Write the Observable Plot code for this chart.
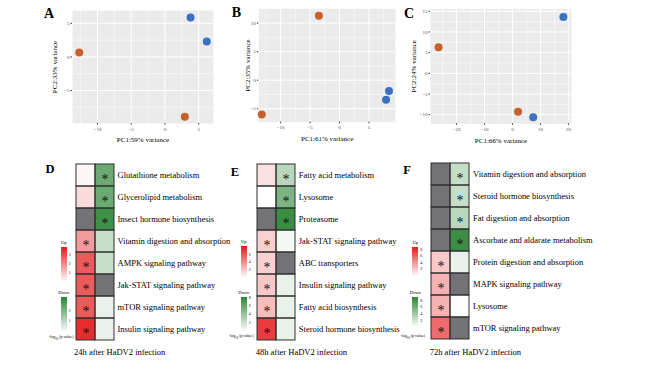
<!DOCTYPE html>
<html><head><meta charset="utf-8">
<script src="https://cdn.jsdelivr.net/npm/d3@7"></script>
<script src="https://cdn.jsdelivr.net/npm/@observablehq/plot@0.6"></script>
<style>
body{margin:0;background:#fff;}
#root{position:relative;width:661px;height:371px;overflow:hidden;font-family:"Liberation Serif","DejaVu Serif",serif;color:#000;}
#root svg{position:absolute;overflow:visible;}
.t{position:absolute;white-space:nowrap;line-height:1;transform:translate(-50%,-50%);}
.tl{position:absolute;white-space:nowrap;line-height:1;transform:translate(0,-50%);}
.bar{position:absolute;}
</style></head><body><div id="root"></div>
<script>
// ---------- PCA data ----------
const pcaGroups = ["Infected","Control"];
const pcaA_x = [-12.7, 2.95, 3.8, 6.2];
const pcaA_y = [0.65, -8.9, 5.85, 2.3];
const pcaA_g = ["Infected","Infected","Control","Control"];
const pcaB_x = [-3.5, -13.2, 8.4, 7.9];
const pcaB_y = [11.3, -6.0, -1.9, -3.4];
const pcaB_g = ["Infected","Infected","Control","Control"];
const pcaC_x = [-26.4, 2.0, 7.4, 18.2];
const pcaC_y = [6.3, -9.3, -10.6, 13.6];
const pcaC_g = ["Infected","Infected","Control","Control"];
const pcaA_xTicks = [-10,-5,0,5], pcaA_yTicks = [-5,0,5];
const pcaB_xTicks = [-10,-5,0,5], pcaB_yTicks = [-5,0,5,10];
const pcaC_xTicks = [-20,-10,0,10,20], pcaC_yTicks = [-10,-5,0,5,10,15];
const pcaLabels = {
  A:["PC1:59% variance","PC2:33% variance"],
  B:["PC1:61% variance","PC2:35% variance"],
  C:["PC1:66% variance","PC2:24% variance"]
};

// ---------- Heatmap data (-log10 p value) ----------
const pathsD = ["Glutathione metabolism","Glycerolipid metabolism","Insect hormone biosynthesis","Vitamin digestion and absorption","AMPK signaling pathway","Jak-STAT signaling pathway","mTOR signaling pathway","Insulin signaling pathway"];
const upD    = [0.15, 0.6, null, 1.7, 2.8, 2.8, 2.8, 3.6];
const downD  = [2.3, 2.3, 3.0, 0.9, 0.9, null, 0.35, 0.35];
const upSigD   = [0,0,0,1,1,1,1,1];
const downSigD = [1,1,1,0,0,0,0,0];
const legUpTicksD = ["1","2","3"], legDownTicksD = ["1","2"];

const pathsE = ["Fatty acid metabolism","Lysosome","Proteasome","Jak-STAT signaling pathway","ABC transporters","Insulin signaling pathway","Fatty acid biosynthesis","Steroid hormone biosynthesis"];
const upE    = [1.1, 0.02, null, 1.7, 1.7, 2.0, 2.4, 7.0];
const downE  = [2.7, 5.1, 7.7, 0.4, null, 0.9, 0.9, 0.9];
const upSigE   = [0,0,0,1,1,1,1,1];
const downSigE = [1,1,1,0,0,0,0,0];
const legUpTicksE = ["2","4","6"], legDownTicksE = ["2","4","6","8"];

const pathsF = ["Vitamin digestion and absorption","Steroid hormone biosynthesis","Fat digestion and absorption","Ascorbate and aldarate metabolism","Protein digestion and absorption","MAPK signaling pathway","Lysosome","mTOR signaling pathway"];
const upF    = [null, null, null, null, 2.1, 3.0, 3.0, 5.7];
const downF  = [2.5, 2.5, 3.0, 8.5, 0.9, null, 0.05, null];
const upSigF   = [0,0,0,0,1,1,1,1];
const downSigF = [1,1,1,1,0,0,0,0];
const legUpTicksF = ["2","4","6","8"], legDownTicksF = ["2","4","6","8"];

const captions = ["24h after HaDV2 infection","48h after HaDV2 infection","72h after HaDV2 infection"];

// ---------- styles ----------
const ORANGE = "#c8602c", BLUE = "#3a72c2";
const RED = "#e41a1c", GREEN = "#2b8535", NA = "#737377";
const FONT = '"Liberation Serif","DejaVu Serif",serif';
const root = document.getElementById("root");

function place(el, left, top){ el.style.left = left+"px"; el.style.top = top+"px"; root.appendChild(el); }
function label(text, x, y, size, opts={}){
  const d = document.createElement("div");
  d.className = opts.left ? "tl" : "t";
  d.innerHTML = text;
  d.style.fontSize = size+"px";
  if (opts.bold) d.style.fontWeight = "bold";
  if (opts.color) d.style.color = opts.color;
  place(d, x, y);
}

function pca(c){
  const data = c.xs.map((x,i)=>({x, y:c.ys[i], g:c.gs[i]}));
  const xs = c.xTicks[1]-c.xTicks[0], ys = c.yTicks[1]-c.yTicks[0];
  const xMinor = d3.range(c.xTicks[0]-xs*2.5, c.xDomain[1], xs).filter(v=>v>c.xDomain[0]);
  const yMinor = d3.range(c.yTicks[0]-ys*2.5, c.yDomain[1], ys).filter(v=>v>c.yDomain[0]);
  const svg = Plot.plot({
    width:c.w, height:c.h, marginLeft:c.mL, marginRight:c.mR, marginTop:c.mT, marginBottom:c.mB,
    style:{fontFamily:FONT, fontSize:"5px", background:"transparent", color:"#4d4d4d", overflow:"visible"},
    x:{domain:c.xDomain}, y:{domain:c.yDomain},
    color:{domain:pcaGroups, range:[ORANGE, BLUE]},
    marks:[
      Plot.frame({fill:"#ebebeb", stroke:"none"}),
      Plot.gridX(xMinor,{stroke:"white", strokeOpacity:1, strokeWidth:0.5}),
      Plot.gridY(yMinor,{stroke:"white", strokeOpacity:1, strokeWidth:0.5}),
      Plot.gridX(c.xTicks,{stroke:"white", strokeOpacity:1, strokeWidth:1}),
      Plot.gridY(c.yTicks,{stroke:"white", strokeOpacity:1, strokeWidth:1}),
      Plot.axisX(c.xTicks,{tickSize:1.5, tickPadding:2, fontSize:5, label:null, stroke:"#333"}),
      Plot.axisY(c.yTicks,{tickSize:1.5, tickPadding:1.5, fontSize:5, label:null, stroke:"#333"}),
      Plot.dot(data,{x:"x", y:"y", fill:"g", r:4, stroke:"none"}),
      Plot.text([c.labels[0]],{frameAnchor:"bottom", dy:16.5, fontSize:7, fill:"black", textAnchor:"middle", lineAnchor:"middle"}),
      Plot.text([c.labels[1]],{frameAnchor:"left", dx:c.titleDx, rotate:-90, fontSize:7, fill:"black", textAnchor:"middle", lineAnchor:"middle"})
    ]
  });
  place(svg, c.left, c.top);
}

pca({left:40, top:0, w:180, h:148, mL:32, mR:7, mT:10, mB:25, xs:pcaA_x, ys:pcaA_y, gs:pcaA_g,
  xDomain:[-13.7,7.2], yDomain:[-9.9,6.9], xTicks:pcaA_xTicks, yTicks:pcaA_yTicks, labels:pcaLabels.A, titleDx:-18});
pca({left:225, top:0, w:180, h:148, mL:33.3, mR:10, mT:8.3, mB:26.3, xs:pcaB_x, ys:pcaB_y, gs:pcaB_g,
  xDomain:[-13.7,9.5], yDomain:[-7.35,12.5], xTicks:pcaB_xTicks, yTicks:pcaB_yTicks, labels:pcaLabels.B, titleDx:-11});
pca({left:400, top:0, w:180, h:148, mL:30, mR:9, mT:8.3, mB:24.7, xs:pcaC_x, ys:pcaC_y, gs:pcaC_g,
  xDomain:[-29.3,21.1], yDomain:[-12.2,15.6], xTicks:pcaC_xTicks, yTicks:pcaC_yTicks, labels:pcaLabels.C, titleDx:-17});

label("A", 49, 14, 14, {bold:true});
label("B", 236.5, 13, 14, {bold:true});
label("C", 409, 13.5, 14, {bold:true});

function heat(c){
  const rows = c.paths.flatMap((p,i)=>[
    {path:p, col:"Up", v:c.up[i], s:c.upSig[i]},
    {path:p, col:"Down", v:c.down[i]==null?null:-c.down[i], s:c.downSig[i]}
  ]);
  const w = c.x1 - c.x0 + 2 + c.labelW, h = c.y1 - c.y0 + 2;
  const svg = Plot.plot({
    width:w, height:h, marginLeft:1, marginTop:1, marginBottom:1, marginRight:c.labelW+1,
    style:{fontFamily:FONT, fontSize:"8.5px", background:"transparent", color:"black", overflow:"visible"},
    x:{domain:["Up","Down"], padding:0, axis:null},
    y:{domain:c.paths, padding:0},
    color:{type:"linear", domain:[-c.downMax,0,c.upMax], range:[GREEN,"#ffffff",RED]},
    marks:[
      Plot.cell(rows,{x:"col", y:"path", fill:NA, inset:0}),
      Plot.cell(rows.filter(d=>d.v!=null),{x:"col", y:"path", fill:"v", inset:0}),
      Plot.cell(rows,{x:"col", y:"path", fill:"none", stroke:"#2e2e2e", strokeWidth:1, inset:0}),
      Plot.text(rows.filter(d=>d.s),{x:"col", y:"path", text:()=>"*", fontSize:14, dy:4, fill:"#111"}),
      Plot.axisY({anchor:"right", tickSize:0, tickPadding:3, fontSize:8.5, label:null})
    ]
  });
  place(svg, c.x0-1, c.y0-1);
  // legend
  const L = c.leg;
  function bar(top, bottom, color, max, ticks, title){
    const b = document.createElement("div");
    b.className = "bar";
    b.style.width = "6px"; b.style.height = (bottom-top)+"px";
    b.style.background = `linear-gradient(to top, #ffffff, ${color})`;
    place(b, L.x, top);
    label(title, L.x+3, top-4, 4.5);
    ticks.forEach(t=>{
      const y = bottom - (+t/max)*(bottom-top);
      label(t, L.x+9, y, 4);
    });
  }
  bar(L.upTop, L.upBottom, RED, c.upMax, c.upTicks, "Up");
  bar(L.downTop, L.downBottom, GREEN, c.downMax, c.downTicks, "Down");
  label("-log<sub style='font-size:3px'>10</sub> (p value)", L.x-12, L.titleY, 4, {left:true});
  label(c.caption, c.x0-1, c.capY, 8.5, {left:true});
  label(c.letter, c.letterX, c.letterY, 12.5, {bold:true});
}

heat({paths:pathsD, up:upD, down:downD, upSig:upSigD, downSig:downSigD, upMax:3.9, downMax:3.3,
  upTicks:legUpTicksD, downTicks:legDownTicksD, x0:75, x1:114, y0:160.7, y1:342, labelW:125,
  leg:{x:60.7, upTop:247, upBottom:282, downTop:297, downBottom:332, titleY:338.3},
  caption:captions[0], capY:351.5, letter:"D", letterX:50, letterY:169});
heat({paths:pathsE, up:upE, down:downE, upSig:upSigE, downSig:downSigE, upMax:8.2, downMax:8.3,
  upTicks:legUpTicksE, downTicks:legDownTicksE, x0:256.7, x1:295, y0:161.7, y1:341.7, labelW:125,
  leg:{x:240.7, upTop:246, upBottom:278, downTop:296.7, downBottom:331, titleY:336.7},
  caption:captions[1], capY:351.5, letter:"E", letterX:235, letterY:171.5});
heat({paths:pathsF, up:upF, down:downF, upSig:upSigF, downSig:downSigF, upMax:8.8, downMax:9.2,
  upTicks:legUpTicksF, downTicks:legDownTicksF, x0:430.7, x1:469.3, y0:160, y1:341.7, labelW:140,
  leg:{x:412.3, upTop:247.3, upBottom:276, downTop:296.7, downBottom:327.5, titleY:337.3},
  caption:captions[2], capY:351.5, letter:"F", letterX:407, letterY:170});
</script></body></html>
